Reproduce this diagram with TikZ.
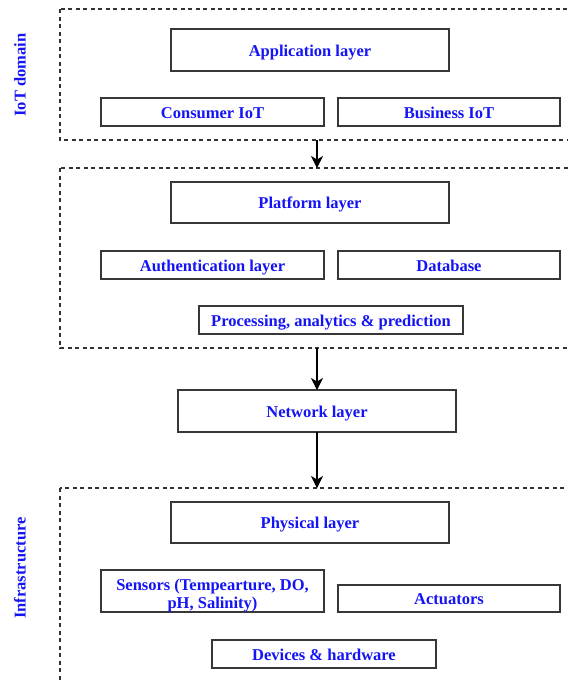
\documentclass[tikz,border=0pt]{standalone}
\usepackage{fontspec}
\setmainfont{Liberation Serif}
\usetikzlibrary{arrows.meta}
\definecolor{labelblue}{RGB}{20,20,245}
\definecolor{boxedge}{RGB}{55,55,55}
\tikzset{
  layerbox/.style={draw=boxedge, line width=1.5pt, inner sep=0pt, outer sep=0pt, anchor=north west,
    font=\bfseries\fontsize{16.5}{17}\selectfont, text=labelblue, align=center,
    text height=14.4pt, text depth=2pt},
  groupbox/.style={draw=black!80, line width=1.1pt, dash pattern=on 4pt off 3.5pt},
  flow/.style={line width=1.3pt, -{Stealth[length=12pt,width=12pt,inset=3.5pt]}},
  sidelabel/.style={font=\bfseries\fontsize{16.5}{17}\selectfont, text=labelblue, rotate=90}
}
\begin{document}
\begin{tikzpicture}[x=1pt,y=-1pt]
\useasboundingbox (0,0) rectangle (568,681);
\clip (0,0) rectangle (568,681);
\fill[white] (0,0) rectangle (568,681);

% dashed groups (open to the right / bottom edge)
\draw[groupbox] (60,9) rectangle (580,140);
\draw[groupbox] (60,168) rectangle (580,348);
\draw[groupbox] (60,488) rectangle (580,700);
\coordinate (g1b) at (317,140);
\coordinate (g2t) at (317,168);
\coordinate (g2b) at (317,348);
\coordinate (g3t) at (317,488);

% side labels
\node[sidelabel] (iot) at (20,75) {IoT domain};
\node[sidelabel] (infra) at (20,568) {Infrastructure};

% IoT domain
\node[layerbox, minimum width=278pt, minimum height=42pt] (app) at (171,29) {Application layer};
\node[layerbox, minimum width=223pt, minimum height=28pt] (cons) at (101,98) {Consumer IoT};
\node[layerbox, minimum width=222pt, minimum height=28pt] (bus) at (338,98) {Business IoT};

% platform
\node[layerbox, minimum width=278pt, minimum height=41pt] (plat) at (171,182) {Platform layer};
\node[layerbox, minimum width=223pt, minimum height=28pt] (auth) at (101,251) {Authentication layer};
\node[layerbox, minimum width=222pt, minimum height=28pt] (db) at (338,251) {Database};
\node[layerbox, minimum width=264pt, minimum height=28pt] (proc) at (199,306) {Processing, analytics \& prediction};

% network
\node[layerbox, minimum width=278pt, minimum height=42pt] (net) at (178,390) {Network layer};

% infrastructure
\node[layerbox, minimum width=278pt, minimum height=41pt] (phys) at (171,502) {Physical layer};
\node[layerbox, minimum width=223pt, minimum height=42pt, text height=, text depth=,
      font=\bfseries\fontsize{16.5}{18.5}\selectfont] (sens) at (101,570) {\rule{0pt}{20pt}Sensors (Tempearture, DO,\\pH, Salinity)};
\node[layerbox, minimum width=222pt, minimum height=27pt] (act) at (338,585) {Actuators};
\node[layerbox, minimum width=224pt, minimum height=28pt] (dev) at (212,640) {Devices \& hardware};

% flow between groups
\draw[flow] (g1b) -- (g2t);
\draw[flow] (g2b) -- (g2b |- net.north);
\draw[flow] (g3t |- net.south) -- (g3t);
\end{tikzpicture}
\end{document}
